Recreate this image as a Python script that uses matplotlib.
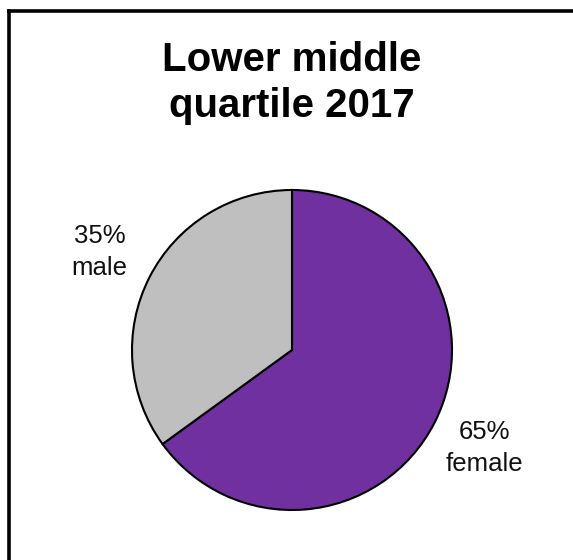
import matplotlib.pyplot as plt
from matplotlib.lines import Line2D

# gender split in the lower middle pay quartile
categories = ["female", "male"]
shares = [65, 35]
colors = ["#7030A0", "#BFBFBF"]
title = "Lower middle\nquartile 2017"

plt.rcParams['font.family'] = ['Liberation Sans', 'DejaVu Sans']

W, H = 573, 560
fig = plt.figure(figsize=(W / 100, H / 100), dpi=100)
ax = fig.add_axes([0, 0, 1, 1])

labels = [f"{v}%\n{c}" for v, c in zip(shares, categories)]
wedges, texts = ax.pie(
    shares,
    labels=labels,
    colors=colors,
    startangle=90,
    counterclock=False,
    center=(292, H - 350),
    radius=160,
    labeldistance=1.35,
    wedgeprops=dict(edgecolor="black", linewidth=1.5),
    textprops=dict(fontsize=18.5, color="#111111", linespacing=1.4),
    frame=True,
)
for t in texts:
    t.set_ha('center')
    t.set_va('center')
ax.set_xlim(0, W)
ax.set_ylim(0, H)
ax.set_aspect('equal')
ax.axis('off')

fig.text(292 / W, 1 - 83 / H, title, ha='center', va='center',
         fontsize=29, fontweight='bold', linespacing=1.25)

# frame lines along the left and top edges
fig.add_artist(Line2D([8.5 / W, 8.5 / W], [0, 1 - 10.5 / H], color='black',
                      linewidth=2.6, solid_capstyle='projecting', transform=fig.transFigure))
fig.add_artist(Line2D([8.5 / W, 1], [1 - 10.5 / H, 1 - 10.5 / H], color='black',
                      linewidth=2.6, solid_capstyle='projecting', transform=fig.transFigure))

fig.savefig("out.png", dpi=100)
